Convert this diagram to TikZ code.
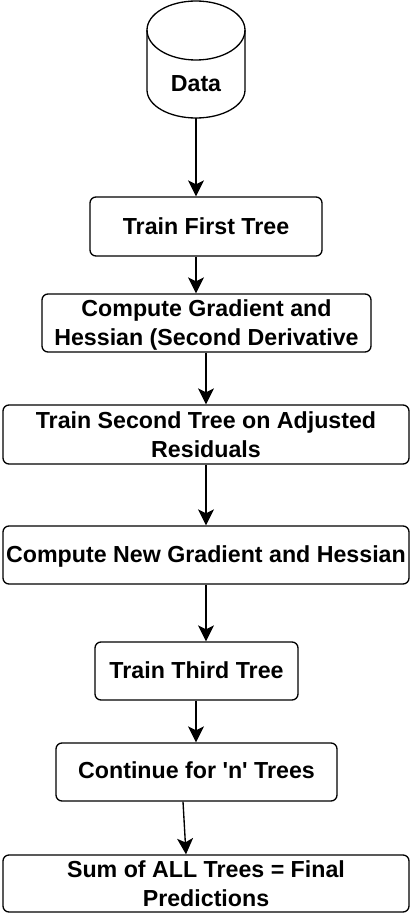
\documentclass[tikz,border=0pt]{standalone}
\usepackage{fontspec}
\newfontfamily\flowfont{Liberation Sans}
\usetikzlibrary{arrows.meta}
\tikzset{
 flowbox/.style={draw=black,line width=1.3pt,rounded corners=6pt,inner sep=0pt,align=center,font=\flowfont\fontsize{23.2}{29}\selectfont\bfseries,text=black},
 flowarrow/.style={draw=black,line width=1.35pt,-{Stealth[length=16pt,width=16pt,inset=4pt]}},
 cylline/.style={line width=1.3pt}
}
\newcommand{\bx}[6]{\node[flowbox,minimum width=#4 pt - #2 pt,minimum height=#5 pt - #3 pt] (#1) at ({(#2+#4)/2 pt},{-(#3+#5)/2 pt}) {#6};}
\newcommand{\nudged}[2]{\raisebox{#1}[\height][\depth]{\begin{tabular}{@{}c@{}}#2\end{tabular}}}
\begin{document}
\begin{tikzpicture}[x=1pt,y=1pt]
\useasboundingbox (0,0) rectangle (412,-917);
\draw[cylline,fill=white] (147,-30) -- (147,-90) arc[start angle=180,end angle=360,x radius=49,y radius=28] -- (245,-30) arc[start angle=0,end angle=180,x radius=49,y radius=29] -- cycle;
\draw[cylline] (147,-30) arc[start angle=180,end angle=360,x radius=49,y radius=30];
\node[minimum width=98pt,minimum height=117pt,inner sep=0pt] (cyl) at (196,-59.5) {};
\node[font=\flowfont\fontsize{23.2}{29}\selectfont\bfseries,inner sep=0pt] (data) at (196,-84) {Data};
\bx{t1}{90}{197}{322}{256}{\nudged{-2pt}{Train First Tree}}
\bx{g1}{42}{294}{371}{352}{\nudged{-2pt}{Compute Gradient and\\Hessian (Second Derivative}}
\bx{t2}{3}{405}{409}{464}{Train Second Tree on Adjusted\\Residuals}
\bx{g2}{3}{526}{409}{584}{\nudged{-2pt}{Compute New Gradient and Hessian}}
\bx{t3}{95}{642}{298}{700}{\nudged{-2pt}{Train Third Tree}}
\bx{tn}{56}{743}{337}{801}{\nudged{-.5pt}{Continue for 'n' Trees}}
\bx{sum}{3}{855}{409}{912}{Sum of ALL Trees = Final\\Predictions}
\draw[flowarrow] (cyl.south) -- ([xshift=-10pt]t1.north);
\draw[flowarrow] ([xshift=-10pt]t1.south) -- ([xshift=-10.5pt]g1.north);
\draw[flowarrow] ([xshift=-.5pt]g1.south) -- (t2.north);
\draw[flowarrow] (t2.south) -- (g2.north);
\draw[flowarrow] (g2.south) -- ([xshift=9.5pt]t3.north);
\draw[flowarrow] ([xshift=-.5pt]t3.south) -- ([xshift=-.5pt]tn.north);
\draw[flowarrow] ([xshift=-13.5pt]tn.south) -- ([xshift=-20pt]sum.north);
\end{tikzpicture}
\end{document}
